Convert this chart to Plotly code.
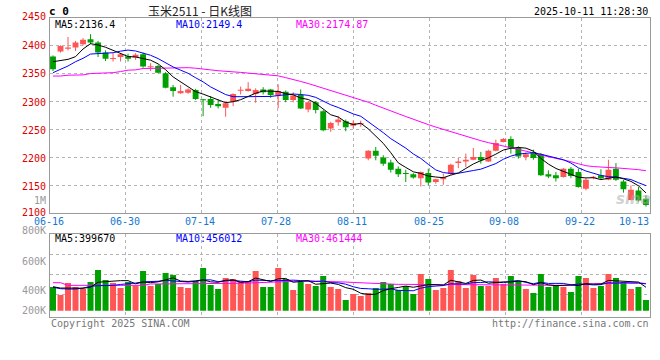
import plotly.graph_objects as go
import pandas as pd
import numpy as np

# ---------------- data ----------------
dates = ["06-16","06-17","06-18","06-19","06-20","06-23","06-24","06-25","06-26","06-27",
         "06-30","07-01","07-02","07-03","07-04","07-07","07-08","07-09","07-10","07-11",
         "07-14","07-15","07-16","07-17","07-18","07-21","07-22","07-23","07-24","07-25",
         "07-28","07-29","07-30","07-31","08-01","08-04","08-05","08-06","08-07","08-08",
         "08-11","08-12","08-13","08-14","08-15","08-18","08-19","08-20","08-21","08-22",
         "08-25","08-26","08-27","08-28","08-29","09-01","09-02","09-03","09-04","09-05",
         "09-08","09-09","09-10","09-11","09-12","09-15","09-16","09-17","09-18","09-19",
         "09-22","09-23","09-24","09-25","09-26","09-29","09-30","10-09","10-10","10-13"]

open_ = [2381,2390,2395,2397,2403,2412,2406,2388,2377,2380,
         2381,2379,2385,2362,2364,2351,2326,2315,2316,2321,
         2304,2305,2296,2289,2300,2320,2319,2314,2322,2322,
         2311,2318,2303,2312,2286,2299,2283,2252,2263,2265,
         2257,2260,2198,2212,2200,2191,2180,2172,2170,2163,
         2172,2156,2161,2171,2190,2193,2196,2201,2193,2212,
         2228,2233,2217,2201,2210,2206,2170,2168,2165,2180,
         2174,2144,2164,2168,2160,2180,2157,2124,2141,2126]
high = [2383,2401,2416,2409,2414,2421,2409,2392,2387,2387,
        2386,2387,2388,2369,2366,2353,2330,2330,2324,2323,
        2305,2310,2304,2300,2315,2327,2335,2324,2326,2323,
        2331,2320,2317,2322,2301,2301,2285,2264,2274,2268,
        2266,2266,2213,2219,2204,2196,2184,2178,2172,2175,
        2180,2162,2171,2189,2199,2207,2217,2210,2214,2232,
        2235,2238,2220,2209,2214,2208,2177,2174,2181,2183,
        2180,2163,2167,2179,2196,2190,2160,2150,2147,2132]
low = [2355,2388,2392,2391,2401,2403,2380,2373,2372,2372,
       2372,2375,2361,2355,2351,2324,2309,2314,2314,2303,
       2274,2289,2288,2273,2292,2313,2318,2298,2313,2307,
       2288,2299,2299,2287,2281,2279,2247,2246,2257,2247,
       2252,2255,2195,2195,2185,2173,2165,2156,2162,2148,
       2150,2153,2151,2169,2181,2183,2195,2189,2192,2211,
       2227,2207,2198,2195,2196,2167,2163,2157,2164,2163,
       2146,2141,2161,2161,2159,2158,2137,2123,2121,2112]
close = [2358,2400,2397,2406,2411,2406,2388,2377,2378,2385,
         2377,2384,2363,2363,2352,2325,2319,2319,2322,2305,
         2303,2294,2292,2297,2314,2321,2323,2321,2317,2312,
         2319,2303,2311,2288,2299,2285,2249,2262,2268,2254,
         2262,2261,2212,2203,2189,2178,2170,2171,2164,2174,
         2155,2161,2165,2187,2193,2196,2201,2195,2212,2226,
         2233,2217,2202,2206,2199,2168,2166,2163,2180,2167,
         2147,2160,2165,2163,2178,2160,2143,2142,2123,2115]
volume = [402e3,266e3,470e3,402e3,368e3,487e3,691e3,521e3,470e3,385e3,
          487e3,419e3,674e3,419e3,453e3,640e3,606e3,402e3,385e3,504e3,
          725e3,436e3,368e3,555e3,538e3,504e3,504e3,674e3,402e3,402e3,
          725e3,538e3,351e3,487e3,453e3,419e3,589e3,402e3,368e3,181e3,
          283e3,249e3,300e3,385e3,487e3,453e3,351e3,419e3,283e3,623e3,
          538e3,351e3,385e3,691e3,504e3,385e3,606e3,419e3,419e3,555e3,
          453e3,589e3,504e3,368e3,300e3,623e3,402e3,436e3,402e3,317e3,
          589e3,555e3,385e3,419e3,623e3,555e3,487e3,368e3,402e3,181e3]

# moving-average values before enough visible history exists
ma5_head = [2371.7, 2373.5, 2375.9, 2380.7]
ma10_head = [2352, 2358, 2364, 2371.7, 2377.7, 2385.4, 2386.6, 2386.6, 2387.8]
ma30_head = [2346, 2346, 2347.5, 2347.8, 2348, 2350.5, 2350.8, 2352, 2352, 2354,
             2356.5, 2357, 2359.5, 2359.7, 2360, 2361, 2361, 2361, 2361, 2360,
             2358, 2357, 2355.5, 2355, 2353.5, 2352.5, 2351, 2350, 2349]
vma5_head = [408e3, 385e3, 385e3, 385e3]
vma10_head = [397e3, 374e3, 368e3, 368e3, 385e3, 414e3, 425e3, 425e3, 430e3]
vma30_head = [476e3, 476e3, 431e3, 431e3, 431e3, 431e3, 431e3, 431e3, 431e3, 431e3,
              431e3, 431e3, 431e3, 454e3, 454e3, 454e3, 454e3, 454e3, 454e3, 454e3,
              454e3, 454e3, 454e3, 466e3, 466e3, 466e3, 470e3, 475e3, 480e3]

price_ticks = [2450, 2400, 2350, 2300, 2250, 2200, 2150, 2100]
vol_tick_labels = ["800K", "600K", "400K", "200K"]
date_tick_labels = ["06-16", "06-30", "07-14", "07-28", "08-11", "08-25", "09-08", "09-22", "10-13"]

ma_price_text = ["MA5:2136.4", "MA10:2149.4", "MA30:2174.87"]
ma_vol_text = ["MA5:399670", "MA10:456012", "MA30:461444"]

# ---------------- derived ----------------
def rolling_with_head(vals, n, head):
    s = pd.Series(vals, dtype=float).rolling(n).mean().to_numpy()
    s[:len(head)] = head
    return s

ma5 = rolling_with_head(close, 5, ma5_head)
ma10 = rolling_with_head(close, 10, ma10_head)
ma30 = rolling_with_head(close, 30, ma30_head)
vma5 = rolling_with_head(volume, 5, vma5_head)
vma10 = rolling_with_head(volume, 10, vma10_head)
vma30 = rolling_with_head(volume, 30, vma30_head)

RED = "#FF5555"
GREEN = "#00A000"
W, H = 660, 360
MONO = "DejaVu Sans Mono"

idx = list(range(len(dates)))
up = [c >= o for o, c in zip(open_, close)]
colors = [RED if u else GREEN for u in up]
MIN_BODY = 1.8
body_base, body_h = [], []
for o, c in zip(open_, close):
    d = abs(c - o)
    pad = max(0.0, MIN_BODY - d)
    body_base.append(min(o, c) - pad / 2)
    body_h.append(d + pad)

fig = go.Figure()

# candle wicks
for flag, col in ((True, RED), (False, GREEN)):
    xs, ys = [], []
    for i in idx:
        if up[i] == flag:
            xs += [i, i, None]
            ys += [low[i], high[i], None]
    fig.add_trace(go.Scatter(x=xs, y=ys, mode="lines", line=dict(color=col, width=1),
                             xaxis="x", yaxis="y", hoverinfo="skip"))

# candle bodies
fig.add_trace(go.Bar(x=idx, y=body_h, base=body_base, width=0.78,
                     marker=dict(color=colors, line=dict(width=0)),
                     xaxis="x", yaxis="y", hoverinfo="skip"))

# price MAs
for ser, col in ((ma30, "#FF00FF"), (ma10, "#0000FF"), (ma5, "#000000")):
    fig.add_trace(go.Scatter(x=idx, y=ser, mode="lines", line=dict(color=col, width=1),
                             xaxis="x", yaxis="y", hoverinfo="skip"))

# volume bars
fig.add_trace(go.Bar(x=idx, y=volume, width=0.8,
                     marker=dict(color=colors, line=dict(width=0)),
                     xaxis="x2", yaxis="y2", hoverinfo="skip"))
for ser, col in ((vma30, "#FF00FF"), (vma10, "#0000FF"), (vma5, "#000000")):
    fig.add_trace(go.Scatter(x=idx, y=ser, mode="lines", line=dict(color=col, width=1),
                             xaxis="x2", yaxis="y2", hoverinfo="skip"))

# ---------------- layout ----------------
def px_to_x(px):
    return (px - 53) / 7.506

x_range = [px_to_x(50), px_to_x(650)]
grid_x = [px_to_x(p) for p in (125, 201.7, 277.3, 353.3, 429.5, 505.7, 581.7)]
label_px = [49, 125, 200, 276, 352, 428.5, 504, 580, 634]

GRID = "#b4b4b4"
BORDER = "#999999"

common_x = dict(range=x_range, showticklabels=False, tickvals=grid_x, ticks="",
                showgrid=True, gridcolor=GRID, griddash="dot", gridwidth=1,
                zeroline=False, showline=True, mirror=True, linecolor=BORDER, linewidth=1,
                fixedrange=True)

VOL_PER_PX = 17000.0
vol_base_px = 310.7
vol_top_px, vol_bot_px = 234.0, 317.3

fig.update_layout(
    width=W, height=H,
    margin=dict(l=0, r=0, t=0, b=0),
    paper_bgcolor="white", plot_bgcolor="white",
    showlegend=False, hovermode=False, barmode="overlay",
    xaxis=dict(domain=[50 / W, 650 / W], anchor="y", **common_x),
    yaxis=dict(domain=[1 - 213.3 / H, 1 - 18 / H], range=[2100, 2450], anchor="x",
               tickvals=price_ticks[1:-1], showticklabels=False, ticks="",
               showgrid=True, gridcolor=GRID, griddash="dot", gridwidth=1,
               zeroline=False, showline=True, mirror=True, linecolor=BORDER, linewidth=1,
               fixedrange=True),
    xaxis2=dict(domain=[50 / W, 650 / W], anchor="y2", **common_x),
    yaxis2=dict(domain=[1 - vol_bot_px / H, 1 - vol_top_px / H],
                range=[-(vol_bot_px - vol_base_px) * VOL_PER_PX, (vol_base_px - vol_top_px) * VOL_PER_PX],
                anchor="x2",
                tickvals=[(vol_base_px - p) * VOL_PER_PX for p in (254.7, 274.7, 294.7)],
                showticklabels=False, ticks="",
                showgrid=True, gridcolor=GRID, griddash="dot", gridwidth=1,
                zeroline=False, showline=True, mirror=True, linecolor=BORDER, linewidth=1,
                fixedrange=True),
)

anns = []
def ann(text, px, py, xanchor="left", color="#000000", size=10, family=MONO, bold=False):
    t = f"<b>{text}</b>" if bold else text
    anns.append(dict(text=t, x=px / W, y=1 - py / H, xref="paper", yref="paper",
                     xanchor=xanchor, yanchor="middle", showarrow=False, borderpad=0,
                     font=dict(family=family, size=size, color=color)))

# header
ann("c 0", 48, 11.5, bold=True, size=11)
ann("玉米2511 - 日K线图", 200, 10.5, xanchor="center", color="#222222", size=12,
    family="Noto Sans CJK SC")
ann("2025-10-11 11:28:30", 649, 11.5, xanchor="right")

# price axis labels
price_label_py = [16.7, 45.7, 73.7, 102.3, 130.3, 158.3, 186.3, 212]
for v, py in zip(price_ticks, price_label_py):
    ann(str(v), 46.5, py, xanchor="right", color="#DD0000")
ann("1M", 46.5, 200.7, xanchor="right", color="#999999")

# MA legend (price)
ann(ma_price_text[0], 53.5, 24.5, color="#000000")
ann(ma_price_text[1], 175, 24.5, color="#0000FF")
ann(ma_price_text[2], 295, 24.5, color="#FF00FF")

# date labels
for lab, px in zip(date_tick_labels, label_px):
    ann(lab, px, 221, xanchor="center", color="#1478D2")

# volume legend
ann(ma_vol_text[0], 54, 238.3, color="#000000")
ann(ma_vol_text[1], 175, 238.3, color="#0000FF")
ann(ma_vol_text[2], 295, 238.3, color="#FF00FF")

# volume labels
for lab, py in zip(vol_tick_labels, (230.7, 261.7, 290.7, 310.7)):
    ann(lab, 46.5, py, xanchor="right", color="#999999")

# footer
ann("Copyright 2025 SINA.COM", 50, 323.5, color="#777777")
ann("http://finance.sina.com.cn", 649.5, 323.5, xanchor="right", color="#777777")

# watermark
anns.append(dict(text="<b><i>sina</i></b>", x=633 / W, y=1 - 199 / H, xref="paper", yref="paper",
                 xanchor="center", yanchor="middle", showarrow=False,
                 font=dict(family="DejaVu Sans", size=15, color="rgba(170,170,170,0.55)")))

fig.update_layout(annotations=anns)

fig.write_html("out.html", config={"displayModeBar": False, "staticPlot": True},
               post_script="document.body.style.margin='0';document.body.style.padding='0';")
